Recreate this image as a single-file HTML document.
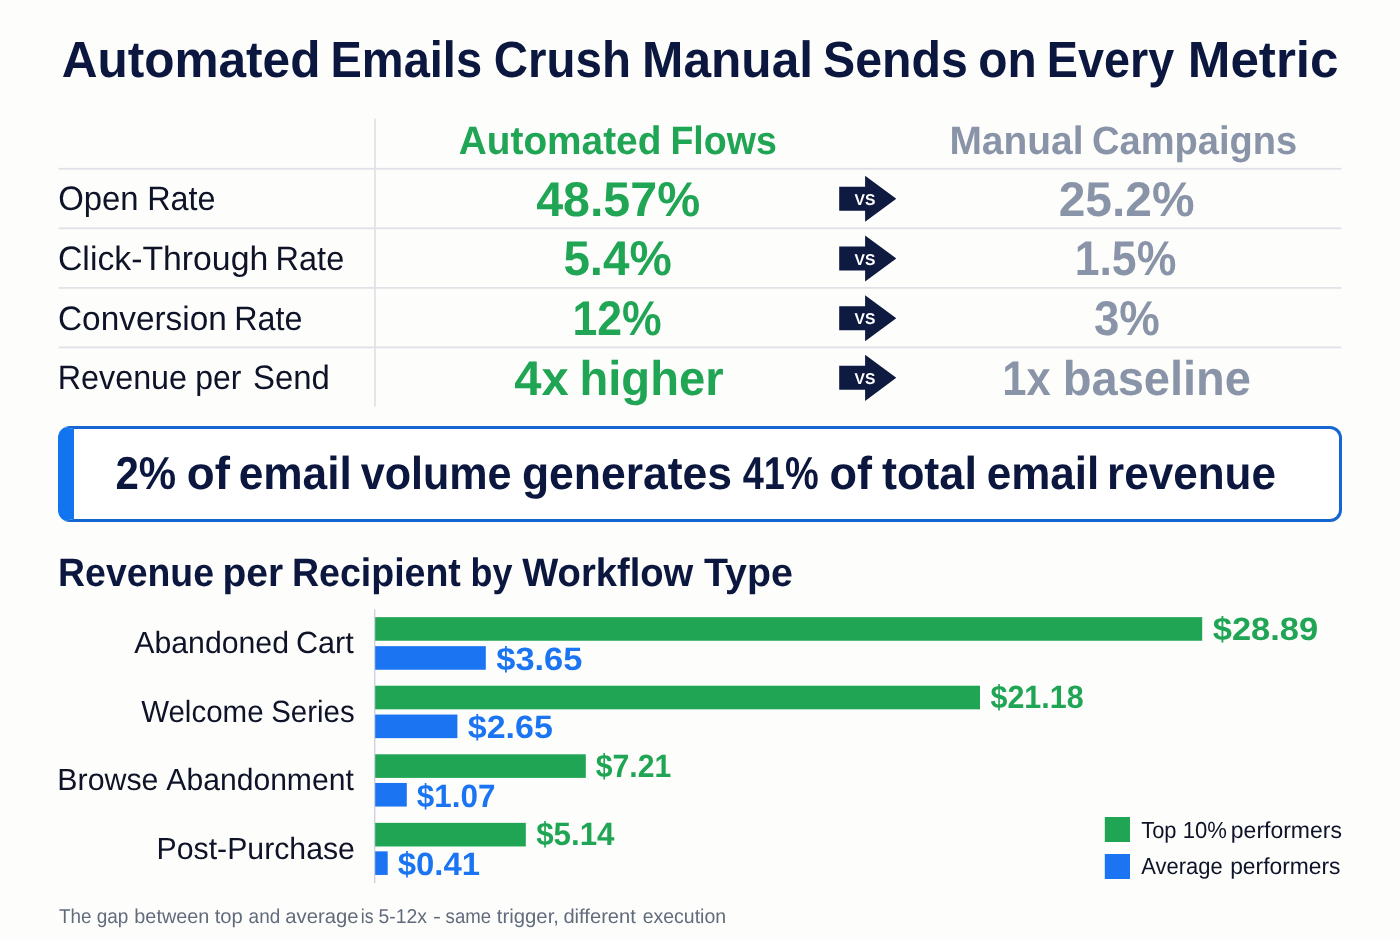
<!DOCTYPE html>
<html lang="en"><head><meta charset="utf-8"><title>Automated Emails Crush Manual Sends on Every Metric</title>
<style>
html,body{margin:0;padding:0}
body{width:1400px;height:939px;position:relative;overflow:hidden;background:#fdfdfc;font-family:"Liberation Sans",Arial,sans-serif}
.t{position:absolute;white-space:nowrap;transform-origin:0 0;margin:0;text-rendering:geometricPrecision}
h1,h2,p{margin:0;padding:0;font-size:inherit;font-weight:inherit}
.shapes{position:absolute;left:0;top:0;will-change:transform}
.txt{position:absolute;left:0;top:0;width:1400px;height:939px;will-change:transform}
.banner{position:absolute;left:58.4px;top:426px;width:1264.2px;height:90px;border:3px solid #1565d2;border-left:16px solid #1274ef;border-radius:12px;background:#fff}
</style></head><body>
<div class="banner"></div>
<svg class="shapes" width="1400" height="939" viewBox="0 0 1400 939">
<rect x="58.6" y="167.85" width="1282.8" height="1.8" fill="#e1e2e8"/>
<rect x="58.6" y="227.40" width="1282.8" height="1.8" fill="#e1e2e8"/>
<rect x="58.6" y="286.95" width="1282.8" height="1.8" fill="#e1e2e8"/>
<rect x="58.6" y="346.50" width="1282.8" height="1.8" fill="#e1e2e8"/>
<rect x="374.1" y="118.6" width="1.8" height="288.1" fill="#e1e2e8"/>
<polygon points="839.2,186.70 865.1,186.70 865.1,175.70 896.3,198.70 865.1,221.80 865.1,210.70 839.2,210.70" fill="#0e1a40"/>
<text x="865" y="204.90" text-anchor="middle" font-family="Liberation Sans, Arial, sans-serif" font-weight="700" text-rendering="geometricPrecision" font-size="15.6" fill="#ffffff" textLength="20.8" lengthAdjust="spacingAndGlyphs">VS</text>
<polygon points="839.2,246.42 865.1,246.42 865.1,235.42 896.3,258.42 865.1,281.52 865.1,270.42 839.2,270.42" fill="#0e1a40"/>
<text x="865" y="264.62" text-anchor="middle" font-family="Liberation Sans, Arial, sans-serif" font-weight="700" text-rendering="geometricPrecision" font-size="15.6" fill="#ffffff" textLength="20.8" lengthAdjust="spacingAndGlyphs">VS</text>
<polygon points="839.2,306.14 865.1,306.14 865.1,295.14 896.3,318.14 865.1,341.24 865.1,330.14 839.2,330.14" fill="#0e1a40"/>
<text x="865" y="324.34" text-anchor="middle" font-family="Liberation Sans, Arial, sans-serif" font-weight="700" text-rendering="geometricPrecision" font-size="15.6" fill="#ffffff" textLength="20.8" lengthAdjust="spacingAndGlyphs">VS</text>
<polygon points="839.2,365.86 865.1,365.86 865.1,354.86 896.3,377.86 865.1,400.96 865.1,389.86 839.2,389.86" fill="#0e1a40"/>
<text x="865" y="384.06" text-anchor="middle" font-family="Liberation Sans, Arial, sans-serif" font-weight="700" text-rendering="geometricPrecision" font-size="15.6" fill="#ffffff" textLength="20.8" lengthAdjust="spacingAndGlyphs">VS</text>
<rect x="374" y="609.4" width="1.4" height="273.8" fill="#cfd2db"/>
<rect x="375.2" y="617.15" width="827.0" height="23.6" fill="#20a554"/>
<rect x="375.2" y="646.15" width="110.6" height="23.6" fill="#1b75f2"/>
<rect x="375.2" y="685.72" width="604.8" height="23.6" fill="#20a554"/>
<rect x="375.2" y="714.55" width="82.2" height="23.6" fill="#1b75f2"/>
<rect x="375.2" y="754.29" width="210.6" height="23.6" fill="#20a554"/>
<rect x="375.2" y="782.95" width="31.6" height="23.6" fill="#1b75f2"/>
<rect x="375.2" y="822.86" width="150.6" height="23.6" fill="#20a554"/>
<rect x="375.2" y="851.35" width="12.5" height="23.6" fill="#1b75f2"/>
<rect x="1104.8" y="817" width="25.2" height="25" fill="#20a554"/>
<rect x="1104.8" y="854" width="25.2" height="25" fill="#1b75f2"/>
</svg>
<div class="txt">
<div class="t" id="g1" style="left:536px;top:171px;font-size:48.75px;line-height:58px;font-weight:700;color:#20a554;transform:translate(0.15px,0.00px) scaleX(0.9919)">48.57%</div>
<div class="t" id="g2" style="left:563px;top:230px;font-size:48.75px;line-height:58px;font-weight:700;color:#20a554;transform:translate(0.38px,0.00px) scaleX(0.9767)">5.4%</div>
<div class="t" id="g3" style="left:572px;top:290px;font-size:48.75px;line-height:58px;font-weight:700;color:#20a554;transform:translate(0.47px,0.00px) scaleX(0.9142)">12%</div>
<div class="t" id="m1" style="left:1058px;top:171px;font-size:48.75px;line-height:58px;font-weight:700;color:#8a94a8;transform:translate(0.73px,0.00px) scaleX(0.9822)">25.2%</div>
<div class="t" id="m2" style="left:1074px;top:230px;font-size:48.75px;line-height:58px;font-weight:700;color:#8a94a8;transform:translate(0.66px,0.00px) scaleX(0.9152)">1.5%</div>
<div class="t" id="m3" style="left:1093px;top:290px;font-size:48.75px;line-height:58px;font-weight:700;color:#8a94a8;transform:translate(0.93px,0.00px) scaleX(0.9353)">3%</div>
<div class="t" id="c4" style="left:156px;top:829px;font-size:30.69px;line-height:37px;font-weight:400;color:#0f1328;transform:translate(0.61px,0.60px) scaleX(0.9851)">Post-Purchase</div>
<div class="t" id="v1g" style="left:1212px;top:609px;font-size:32.26px;line-height:39px;font-weight:700;color:#20a554;transform:translate(0.77px,0.80px) scaleX(1.0689)">$28.89</div>
<div class="t" id="v1b" style="left:496px;top:639px;font-size:32.26px;line-height:39px;font-weight:700;color:#1b75f2;transform:translate(0.24px,0.60px) scaleX(1.0675)">$3.65</div>
<div class="t" id="v2g" style="left:990px;top:678px;font-size:32.26px;line-height:39px;font-weight:700;color:#20a554;transform:translate(0.50px,0.00px) scaleX(0.9436)">$21.18</div>
<div class="t" id="v2b" style="left:467px;top:708px;font-size:32.26px;line-height:39px;font-weight:700;color:#1b75f2;transform:translate(0.82px,0.10px) scaleX(1.0529)">$2.65</div>
<div class="t" id="v3g" style="left:595px;top:746px;font-size:32.26px;line-height:39px;font-weight:700;color:#20a554;transform:translate(0.77px,0.90px) scaleX(0.9343)">$7.21</div>
<div class="t" id="v3b" style="left:416px;top:776px;font-size:32.26px;line-height:39px;font-weight:700;color:#1b75f2;transform:translate(0.82px,0.70px) scaleX(0.9749)">$1.07</div>
<div class="t" id="v4g" style="left:536px;top:815px;font-size:32.26px;line-height:39px;font-weight:700;color:#20a554;transform:translate(0.14px,0.00px) scaleX(0.9711)">$5.14</div>
<div class="t" id="v4b" style="left:397px;top:845px;font-size:32.26px;line-height:39px;font-weight:700;color:#1b75f2;transform:translate(0.74px,0.10px) scaleX(1.0193)">$0.41</div>
<h1 class="line" id="title">
<span class="t" id="title_0" style="left:61px;top:29px;font-size:50.91px;line-height:61px;font-weight:700;color:#0b173e;transform:translate(0.70px,0.00px) scaleX(0.9733)">Automated</span>
<span class="t" id="title_1" style="left:330px;top:29px;font-size:50.91px;line-height:61px;font-weight:700;color:#0b173e;transform:translate(0.52px,0.00px) scaleX(0.9231)">Emails</span>
<span class="t" id="title_2" style="left:493px;top:29px;font-size:50.91px;line-height:61px;font-weight:700;color:#0b173e;transform:translate(0.73px,0.00px) scaleX(0.9326)">Crush</span>
<span class="t" id="title_3" style="left:642px;top:29px;font-size:50.91px;line-height:61px;font-weight:700;color:#0b173e;transform:translate(0.08px,0.00px) scaleX(0.9750)">Manual</span>
<span class="t" id="title_4" style="left:822px;top:29px;font-size:50.91px;line-height:61px;font-weight:700;color:#0b173e;transform:translate(0.98px,0.00px) scaleX(0.9476)">Sends</span>
<span class="t" id="title_5" style="left:978px;top:29px;font-size:50.91px;line-height:61px;font-weight:700;color:#0b173e;transform:translate(0.20px,0.00px) scaleX(0.9399)">on</span>
<span class="t" id="title_6" style="left:1046px;top:29px;font-size:50.91px;line-height:61px;font-weight:700;color:#0b173e;transform:translate(0.86px,0.00px) scaleX(0.9175)">Every</span>
<span class="t" id="title_7" style="left:1187px;top:29px;font-size:50.91px;line-height:61px;font-weight:700;color:#0b173e;transform:translate(0.73px,0.00px) scaleX(1.0060)">Metric</span>
</h1>
<p class="line" id="ban">
<span class="t" id="ban_0" style="left:115px;top:446px;font-size:46.16px;line-height:55px;font-weight:700;color:#0b173e;transform:translate(0.40px,0.00px) scaleX(0.9104)">2%</span>
<span class="t" id="ban_1" style="left:186px;top:446px;font-size:46.16px;line-height:55px;font-weight:700;color:#0b173e;transform:translate(0.87px,0.00px) scaleX(0.9906)">of</span>
<span class="t" id="ban_2" style="left:238px;top:446px;font-size:46.16px;line-height:55px;font-weight:700;color:#0b173e;transform:translate(0.64px,0.00px) scaleX(0.9591)">email</span>
<span class="t" id="ban_3" style="left:360px;top:446px;font-size:46.16px;line-height:55px;font-weight:700;color:#0b173e;transform:translate(0.67px,0.00px) scaleX(0.9334)">volume</span>
<span class="t" id="ban_4" style="left:521px;top:446px;font-size:46.16px;line-height:55px;font-weight:700;color:#0b173e;transform:translate(0.91px,0.00px) scaleX(0.9634)">generates</span>
<span class="t" id="ban_5" style="left:742px;top:446px;font-size:46.16px;line-height:55px;font-weight:700;color:#0b173e;transform:translate(0.75px,0.00px) scaleX(0.8212)">41%</span>
<span class="t" id="ban_6" style="left:829px;top:446px;font-size:46.16px;line-height:55px;font-weight:700;color:#0b173e;transform:translate(0.48px,0.00px) scaleX(0.9756)">of</span>
<span class="t" id="ban_7" style="left:881px;top:446px;font-size:46.16px;line-height:55px;font-weight:700;color:#0b173e;transform:translate(0.89px,0.00px) scaleX(0.9751)">total</span>
<span class="t" id="ban_8" style="left:986px;top:446px;font-size:46.16px;line-height:55px;font-weight:700;color:#0b173e;transform:translate(0.74px,0.00px) scaleX(0.9535)">email</span>
<span class="t" id="ban_9" style="left:1107px;top:446px;font-size:46.16px;line-height:55px;font-weight:700;color:#0b173e;transform:translate(0.04px,0.00px) scaleX(0.9539)">revenue</span>
</p>
<h2 class="line" id="sec">
<span class="t" id="sec_0" style="left:58px;top:549px;font-size:39.71px;line-height:48px;font-weight:700;color:#0b173e;transform:translate(0.09px,0.00px) scaleX(0.9416)">Revenue</span>
<span class="t" id="sec_1" style="left:222px;top:549px;font-size:39.71px;line-height:48px;font-weight:700;color:#0b173e;transform:translate(0.47px,0.00px) scaleX(0.9813)">per</span>
<span class="t" id="sec_2" style="left:291px;top:549px;font-size:39.71px;line-height:48px;font-weight:700;color:#0b173e;transform:translate(0.96px,0.00px) scaleX(0.9451)">Recipient</span>
<span class="t" id="sec_3" style="left:470px;top:549px;font-size:39.71px;line-height:48px;font-weight:700;color:#0b173e;transform:translate(0.57px,0.00px) scaleX(0.9039)">by</span>
<span class="t" id="sec_4" style="left:522px;top:549px;font-size:39.71px;line-height:48px;font-weight:700;color:#0b173e;transform:translate(0.29px,0.00px) scaleX(0.9605)">Workflow</span>
<span class="t" id="sec_5" style="left:703px;top:549px;font-size:39.71px;line-height:48px;font-weight:700;color:#0b173e;transform:translate(0.96px,0.00px) scaleX(0.9899)">Type</span>
</h2>
<div class="line" id="r1">
<span class="t" id="r1_0" style="left:58px;top:179px;font-size:33.89px;line-height:41px;font-weight:400;color:#0f1328;transform:translate(0.23px,0.30px) scaleX(0.9695)">Open</span>
<span class="t" id="r1_1" style="left:147px;top:179px;font-size:33.89px;line-height:41px;font-weight:400;color:#0f1328;transform:translate(0.25px,0.30px) scaleX(0.9547)">Rate</span>
</div>
<div class="line" id="r2">
<span class="t" id="r2_0" style="left:57px;top:238px;font-size:33.89px;line-height:41px;font-weight:400;color:#0f1328;transform:translate(0.98px,0.90px) scaleX(0.9971)">Click-Through</span>
<span class="t" id="r2_1" style="left:275px;top:238px;font-size:33.89px;line-height:41px;font-weight:400;color:#0f1328;transform:translate(0.61px,0.90px) scaleX(0.9584)">Rate</span>
</div>
<div class="line" id="r3">
<span class="t" id="r3_0" style="left:57px;top:298px;font-size:33.89px;line-height:41px;font-weight:400;color:#0f1328;transform:translate(0.97px,0.50px) scaleX(0.9854)">Conversion</span>
<span class="t" id="r3_1" style="left:234px;top:298px;font-size:33.89px;line-height:41px;font-weight:400;color:#0f1328;transform:translate(0.17px,0.50px) scaleX(0.9537)">Rate</span>
</div>
<div class="line" id="r4">
<span class="t" id="r4_0" style="left:57px;top:358px;font-size:33.89px;line-height:41px;font-weight:400;color:#0f1328;transform:translate(0.79px,0.10px) scaleX(0.9530)">Revenue</span>
<span class="t" id="r4_1" style="left:195px;top:358px;font-size:33.89px;line-height:41px;font-weight:400;color:#0f1328;transform:translate(0.19px,0.10px) scaleX(0.9423)">per</span>
<span class="t" id="r4_2" style="left:253px;top:358px;font-size:33.89px;line-height:41px;font-weight:400;color:#0f1328;transform:translate(0.05px,0.10px) scaleX(0.9709)">Send</span>
</div>
<div class="line" id="h1">
<span class="t" id="h1_0" style="left:458px;top:117px;font-size:39.56px;line-height:47px;font-weight:700;color:#20a554;transform:translate(0.80px,0.60px) scaleX(0.9806)">Automated</span>
<span class="t" id="h1_1" style="left:670px;top:117px;font-size:39.56px;line-height:47px;font-weight:700;color:#20a554;transform:translate(0.41px,0.60px) scaleX(0.9495)">Flows</span>
</div>
<div class="line" id="h2">
<span class="t" id="h2_0" style="left:949px;top:117px;font-size:39.56px;line-height:47px;font-weight:700;color:#8a94a8;transform:translate(0.41px,0.60px) scaleX(0.9846)">Manual</span>
<span class="t" id="h2_1" style="left:1091px;top:117px;font-size:39.56px;line-height:47px;font-weight:700;color:#8a94a8;transform:translate(0.97px,0.60px) scaleX(0.9633)">Campaigns</span>
</div>
<div class="line" id="g4">
<span class="t" id="g4_0" style="left:514px;top:349px;font-size:48.75px;line-height:58px;font-weight:700;color:#20a554;transform:translate(0.26px,0.90px) scaleX(1.0042)">4x</span>
<span class="t" id="g4_1" style="left:579px;top:349px;font-size:48.75px;line-height:58px;font-weight:700;color:#20a554;transform:translate(0.46px,0.90px) scaleX(0.9669)">higher</span>
</div>
<div class="line" id="m4">
<span class="t" id="m4_0" style="left:1002px;top:349px;font-size:48.75px;line-height:58px;font-weight:700;color:#8a94a8;transform:translate(0.27px,0.90px) scaleX(0.8925)">1x</span>
<span class="t" id="m4_1" style="left:1062px;top:349px;font-size:48.75px;line-height:58px;font-weight:700;color:#8a94a8;transform:translate(0.75px,0.90px) scaleX(0.9647)">baseline</span>
</div>
<div class="line" id="c1">
<span class="t" id="c1_0" style="left:134px;top:624px;font-size:30.69px;line-height:37px;font-weight:400;color:#0f1328;transform:translate(0.32px,0.00px) scaleX(0.9852)">Abandoned</span>
<span class="t" id="c1_1" style="left:295px;top:624px;font-size:30.69px;line-height:37px;font-weight:400;color:#0f1328;transform:translate(0.99px,0.00px) scaleX(0.9975)">Cart</span>
</div>
<div class="line" id="c2">
<span class="t" id="c2_0" style="left:141px;top:692px;font-size:30.69px;line-height:37px;font-weight:400;color:#0f1328;transform:translate(0.13px,0.60px) scaleX(0.9613)">Welcome</span>
<span class="t" id="c2_1" style="left:271px;top:692px;font-size:30.69px;line-height:37px;font-weight:400;color:#0f1328;transform:translate(0.23px,0.60px) scaleX(0.9593)">Series</span>
</div>
<div class="line" id="c3">
<span class="t" id="c3_0" style="left:57px;top:761px;font-size:30.69px;line-height:37px;font-weight:400;color:#0f1328;transform:translate(0.32px,0.00px) scaleX(0.9882)">Browse</span>
<span class="t" id="c3_1" style="left:166px;top:761px;font-size:30.69px;line-height:37px;font-weight:400;color:#0f1328;transform:translate(0.37px,0.00px) scaleX(0.9807)">Abandonment</span>
</div>
<div class="line" id="l1">
<span class="t" id="l1_0" style="left:1141px;top:816px;font-size:23.27px;line-height:28px;font-weight:400;color:#0f1328;transform:translate(0.19px,0.00px) scaleX(0.9405)">Top</span>
<span class="t" id="l1_1" style="left:1182px;top:816px;font-size:23.27px;line-height:28px;font-weight:400;color:#0f1328;transform:translate(0.65px,0.00px) scaleX(0.9495)">10%</span>
<span class="t" id="l1_2" style="left:1230px;top:816px;font-size:23.27px;line-height:28px;font-weight:400;color:#0f1328;transform:translate(0.84px,0.00px) scaleX(0.9874)">performers</span>
</div>
<div class="line" id="l2">
<span class="t" id="l2_0" style="left:1141px;top:852px;font-size:23.27px;line-height:28px;font-weight:400;color:#0f1328;transform:translate(0.33px,0.00px) scaleX(0.9435)">Average</span>
<span class="t" id="l2_1" style="left:1230px;top:852px;font-size:23.27px;line-height:28px;font-weight:400;color:#0f1328;transform:translate(0.13px,0.00px) scaleX(0.9816)">performers</span>
</div>
<p class="line" id="foot">
<span class="t" id="foot_0" style="left:58px;top:904px;font-size:20.07px;line-height:24px;font-weight:400;color:#626b7c;transform:translate(0.92px,0.70px) scaleX(0.9409)">The</span>
<span class="t" id="foot_1" style="left:96px;top:904px;font-size:20.07px;line-height:24px;font-weight:400;color:#626b7c;transform:translate(0.70px,0.70px) scaleX(0.9476)">gap</span>
<span class="t" id="foot_2" style="left:134px;top:904px;font-size:20.07px;line-height:24px;font-weight:400;color:#626b7c;transform:translate(0.33px,0.70px) scaleX(0.9897)">between</span>
<span class="t" id="foot_3" style="left:214px;top:904px;font-size:20.07px;line-height:24px;font-weight:400;color:#626b7c;transform:translate(0.70px,0.70px) scaleX(1.0086)">top</span>
<span class="t" id="foot_4" style="left:248px;top:904px;font-size:20.07px;line-height:24px;font-weight:400;color:#626b7c;transform:translate(0.62px,0.70px) scaleX(0.9416)">and</span>
<span class="t" id="foot_5" style="left:285px;top:904px;font-size:20.07px;line-height:24px;font-weight:400;color:#626b7c;transform:translate(0.28px,0.70px) scaleX(1.0100)">average</span>
<span class="t" id="foot_6" style="left:360px;top:904px;font-size:20.07px;line-height:24px;font-weight:400;color:#626b7c;transform:translate(0.77px,0.59px) scaleX(0.8806)">is</span>
<span class="t" id="foot_7" style="left:378px;top:904px;font-size:20.07px;line-height:24px;font-weight:400;color:#626b7c;transform:translate(0.52px,0.59px) scaleX(0.9627)">5-12x</span>
<span class="t" id="foot_8" style="left:433px;top:904px;font-size:20.07px;line-height:24px;font-weight:400;color:#626b7c;transform:translate(0.09px,0.70px) scaleX(1.1871)">-</span>
<span class="t" id="foot_9" style="left:445px;top:904px;font-size:20.07px;line-height:24px;font-weight:400;color:#626b7c;transform:translate(0.58px,0.70px) scaleX(0.9273)">same</span>
<span class="t" id="foot_10" style="left:496px;top:904px;font-size:20.07px;line-height:24px;font-weight:400;color:#626b7c;transform:translate(0.82px,0.70px) scaleX(1.0131)">trigger,</span>
<span class="t" id="foot_11" style="left:563px;top:904px;font-size:20.07px;line-height:24px;font-weight:400;color:#626b7c;transform:translate(0.41px,0.70px) scaleX(1.0047)">different</span>
<span class="t" id="foot_12" style="left:642px;top:904px;font-size:20.07px;line-height:24px;font-weight:400;color:#626b7c;transform:translate(0.69px,0.70px) scaleX(0.9707)">execution</span>
</p>
</div>
</body></html>
